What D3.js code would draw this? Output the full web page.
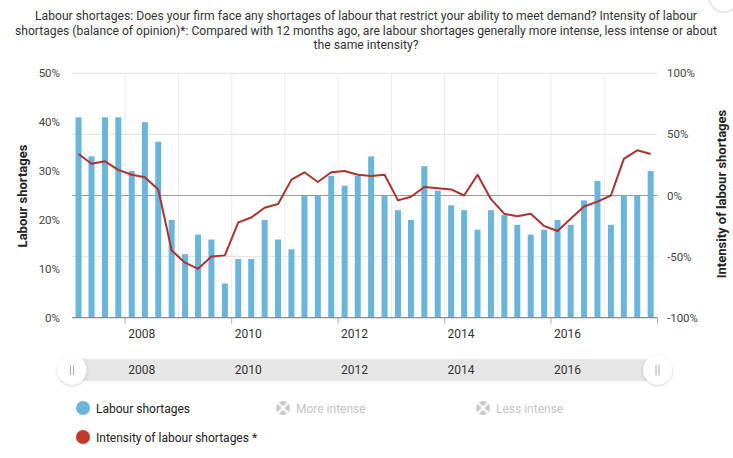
<!DOCTYPE html>
<html><head><meta charset="utf-8">
<script src="https://cdn.jsdelivr.net/npm/d3@7/dist/d3.min.js"></script>
<style>
html,body{margin:0;padding:0;background:#fff;}
svg{display:block;font-family:Roboto,"Noto Sans",sans-serif;}
</style></head>
<body><svg id="c" width="733" height="458"></svg>
<script>
const titleLines = [
  "Labour shortages: Does your firm face any shortages of labour that restrict your ability to meet demand? Intensity of labour",
  "shortages (balance of opinion)*: Compared with 12 months ago, are labour shortages generally more intense, less intense or about",
  "the same intensity?"
];
const quarters = [
  "2007Q1","2007Q2","2007Q3","2007Q4","2008Q1","2008Q2","2008Q3","2008Q4",
  "2009Q1","2009Q2","2009Q3","2009Q4","2010Q1","2010Q2","2010Q3","2010Q4",
  "2011Q1","2011Q2","2011Q3","2011Q4","2012Q1","2012Q2","2012Q3","2012Q4",
  "2013Q1","2013Q2","2013Q3","2013Q4","2014Q1","2014Q2","2014Q3","2014Q4",
  "2015Q1","2015Q2","2015Q3","2015Q4","2016Q1","2016Q2","2016Q3","2016Q4",
  "2017Q1","2017Q2","2017Q3","2017Q4"
];
const shortages = [41,33,41,41,30,40,36,20,13,17,16,7,12,12,20,16,14,25,25,29,27,29,33,25,22,20,31,26,23,22,18,22,21,19,17,18,20,19,24,28,19,25,25,30];
const intensity = [34,26,28,21,17,15,5,-45,-55,-60,-50,-49,-22,-18,-10,-7,13,19,11,19,20,17,16,17,-4,-1,7,6,5,0,17,-3,-15,-17,-15,-25,-29,-19,-9,-5,0,30,37,34];
const leftTicks = [0,10,20,30,40,50];
const rightTicks = [-100,-50,0,50,100];
const xTickYears = [2008,2010,2012,2014,2016,2018];
const gridYears = [2008,2009,2010,2011,2012,2013,2014,2015,2016,2017];

const svg = d3.select("#c");
const L = 72, R = 657.5, T = 73.3, B = 317.7;

function qDate(s){ const y=+s.slice(0,4), q=+s.slice(5); return new Date(y, 3*q-2, 15); }
const x = d3.scaleTime().domain([new Date(2007,0,1), new Date(2018,0,1)]).range([L,R]);
const yL = d3.scaleLinear().domain([0,50]).range([B,T]);
const yR = d3.scaleLinear().domain([-100,100]).range([B,T]);

// Title
const tw = [662, 702, 105];
titleLines.forEach((t,i)=>{
  svg.append("text").attr("x",366).attr("y",20+i*14.5).attr("text-anchor","middle")
    .attr("font-size",12).attr("fill","#333")
    .attr("textLength",tw[i]).attr("lengthAdjust","spacingAndGlyphs").text(t);
});
// top-right button
svg.append("circle").attr("cx",724).attr("cy",-3).attr("r",15).attr("fill","#fff").attr("stroke","#e3e3e3").attr("stroke-width",1.5);

// Grid
const g = svg.append("g");
g.selectAll(".vg").data(gridYears).join("line")
  .attr("x1",d=>x(new Date(d,0,1))).attr("x2",d=>x(new Date(d,0,1)))
  .attr("y1",T).attr("y2",B).attr("stroke","#ebebeb").attr("stroke-width",1);
g.selectAll(".hg").data(rightTicks.filter(d=>d!==-100)).join("line")
  .attr("x1",L).attr("x2",R).attr("y1",d=>yR(d)).attr("y2",d=>yR(d))
  .attr("stroke",d=>d===0?"#9a9a9a":"#e2e2e2").attr("stroke-width",1);

// Bars
svg.append("g").selectAll("rect").data(shortages).join("rect")
  .attr("x",(d,i)=>x(qDate(quarters[i]))-3).attr("width",6)
  .attr("y",d=>yL(d)).attr("height",d=>B-yL(d)).attr("fill","#6bb4da");

// X axis line & ticks
svg.append("line").attr("x1",L).attr("x2",R).attr("y1",B).attr("y2",B).attr("stroke","#8a8a8a").attr("stroke-width",1.2);
svg.append("g").selectAll("line").data(xTickYears).join("line")
  .attr("x1",d=>x(new Date(d,0,1))).attr("x2",d=>x(new Date(d,0,1)))
  .attr("y1",B).attr("y2",B+6).attr("stroke","#aaa");
svg.append("g").selectAll("text").data(xTickYears.filter(d=>d<2018)).join("text")
  .attr("x",d=>x(new Date(d,0,1))+3).attr("y",338).attr("font-size",12).attr("fill","#333").text(d=>d);

// Line
const line = d3.line().x((d,i)=>x(qDate(quarters[i]))).y(d=>yR(d));
svg.append("path").datum(intensity).attr("d",line).attr("fill","none")
  .attr("stroke","#a8332f").attr("stroke-width",2).attr("stroke-linejoin","round");

// Left axis
svg.append("g").selectAll("text").data(leftTicks).join("text")
  .attr("x",60).attr("y",d=>yL(d)+4).attr("text-anchor","end").attr("font-size",11.5).attr("fill","#444").text(d=>d+"%");
svg.append("text").attr("transform","translate(27,196) rotate(-90)").attr("text-anchor","middle")
  .attr("font-size",13).attr("font-weight","bold").attr("fill","#222").text("Labour shortages");
// Right axis
svg.append("g").selectAll("text").data(rightTicks).join("text")
  .attr("x",667).attr("y",d=>yR(d)+4).attr("text-anchor","start").attr("font-size",11.5).attr("fill","#444").text(d=>d+"%");
svg.append("text").attr("transform","translate(726,194) rotate(-90)").attr("text-anchor","middle")
  .attr("font-size",13).attr("font-weight","bold").attr("fill","#222").text("Intensity of labour shortages");

// Navigator
const defs = svg.append("defs");
const f = defs.append("filter").attr("id","sh").attr("x","-50%").attr("y","-50%").attr("width","200%").attr("height","200%");
f.append("feDropShadow").attr("dx",0).attr("dy",1).attr("stdDeviation",1.5).attr("flood-color","#000").attr("flood-opacity",0.2);
svg.append("rect").attr("x",L).attr("y",359).attr("width",R-L).attr("height",22).attr("fill","#e6e6e6");
svg.append("g").selectAll("text").data(xTickYears.filter(d=>d<2018)).join("text")
  .attr("x",d=>x(new Date(d,0,1))+3).attr("y",374).attr("font-size",12).attr("fill","#333").text(d=>d);
[L, R].forEach(cx=>{
  svg.append("circle").attr("cx",cx).attr("cy",370).attr("r",14.5).attr("fill","#fff").attr("filter","url(#sh)");
  [-1.5,1.5].forEach(o=>svg.append("line").attr("x1",cx+o).attr("x2",cx+o).attr("y1",365).attr("y2",375).attr("stroke","#aaa").attr("stroke-width",1));
});

// Legend
function hiddenIcon(cx,cy){
  svg.append("circle").attr("cx",cx).attr("cy",cy).attr("r",7).attr("fill","#c9c9c9");
  svg.append("path").attr("d",`M${cx-5},${cy-5}L${cx+5},${cy+5}M${cx+5},${cy-5}L${cx-5},${cy+5}`).attr("stroke","#fff").attr("stroke-width",2.4);
}
svg.append("circle").attr("cx",83).attr("cy",408).attr("r",7).attr("fill","#6bb4da");
svg.append("text").attr("x",96).attr("y",412.5).attr("font-size",12).attr("fill","#222").text("Labour shortages");
hiddenIcon(283,408);
svg.append("text").attr("x",296).attr("y",412.5).attr("font-size",12).attr("fill","#c4c4c4").text("More intense");
hiddenIcon(483,408);
svg.append("text").attr("x",496).attr("y",412.5).attr("font-size",12).attr("fill","#c4c4c4").text("Less intense");
svg.append("circle").attr("cx",83).attr("cy",437).attr("r",7).attr("fill","#c0392b");
svg.append("text").attr("x",96).attr("y",441.5).attr("font-size",12).attr("fill","#222").text("Intensity of labour shortages *");
</script></body></html>
